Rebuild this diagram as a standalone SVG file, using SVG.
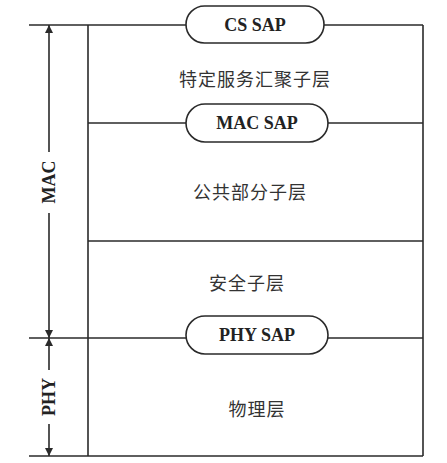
<svg xmlns="http://www.w3.org/2000/svg" width="447" height="463" viewBox="0 0 447 463">
<style>
.ln{stroke:#2a2a2a;stroke-width:1.6;fill:none}
.pill{fill:#fff;stroke:#2a2a2a;stroke-width:1.6}
.sap{font-family:"Liberation Serif",serif;font-weight:bold;font-size:18px;fill:#222;text-anchor:middle;dominant-baseline:central}
.cn{font-family:"Noto Sans CJK SC","Noto Sans",sans-serif;font-size:18px;fill:#333;text-anchor:middle;dominant-baseline:central;letter-spacing:1px}
</style>
<defs>
<marker id="ah" viewBox="0 0 10 10" refX="10" refY="5" markerWidth="8" markerHeight="12" markerUnits="userSpaceOnUse" orient="auto">
<path d="M0,0 L10,5 L0,10 z" fill="#2a2a2a"/>
</marker>
</defs>
<g id="connectors">
<line class="ln" x1="29" y1="25" x2="423" y2="25"/>
<line class="ln" x1="88" y1="123" x2="423" y2="123"/>
<line class="ln" x1="88" y1="241" x2="423" y2="241"/>
<line class="ln" x1="29" y1="338" x2="423" y2="338"/>
<line class="ln" x1="29" y1="456" x2="423" y2="456"/>
<line class="ln" x1="88" y1="25" x2="88" y2="456"/>
<line class="ln" x1="423" y1="25" x2="423" y2="456"/>
<line class="ln" x1="49" y1="152" x2="49" y2="25" marker-end="url(#ah)"/>
<line class="ln" x1="49" y1="213" x2="49" y2="338" marker-end="url(#ah)"/>
<line class="ln" x1="49" y1="370" x2="49" y2="338" marker-end="url(#ah)"/>
<line class="ln" x1="49" y1="424" x2="49" y2="456" marker-end="url(#ah)"/>
</g>
<g id="cs_sap">
<rect class="pill" x="186" y="6" width="138" height="37" rx="18.5"/>
<text class="sap" x="255" y="25">CS SAP</text>
</g>
<g id="cs_layer"><text class="cn" x="255" y="78">特定服务汇聚子层</text></g>
<g id="mac_sap">
<rect class="pill" x="186" y="104" width="142" height="38" rx="19"/>
<text class="sap" x="257" y="123">MAC SAP</text>
</g>
<g id="cps_layer"><text class="cn" x="250" y="191">公共部分子层</text></g>
<g id="sec_layer"><text class="cn" x="247" y="282">安全子层</text></g>
<g id="phy_sap">
<rect class="pill" x="186" y="316" width="142" height="38" rx="19"/>
<text class="sap" x="257" y="335">PHY SAP</text>
</g>
<g id="phy_layer"><text class="cn" x="257" y="408">物理层</text></g>
<g id="mac_label"><text class="sap" transform="translate(49,182) rotate(-90)">MAC</text></g>
<g id="phy_label"><text class="sap" transform="translate(49,397) rotate(-90)">PHY</text></g>
</svg>
